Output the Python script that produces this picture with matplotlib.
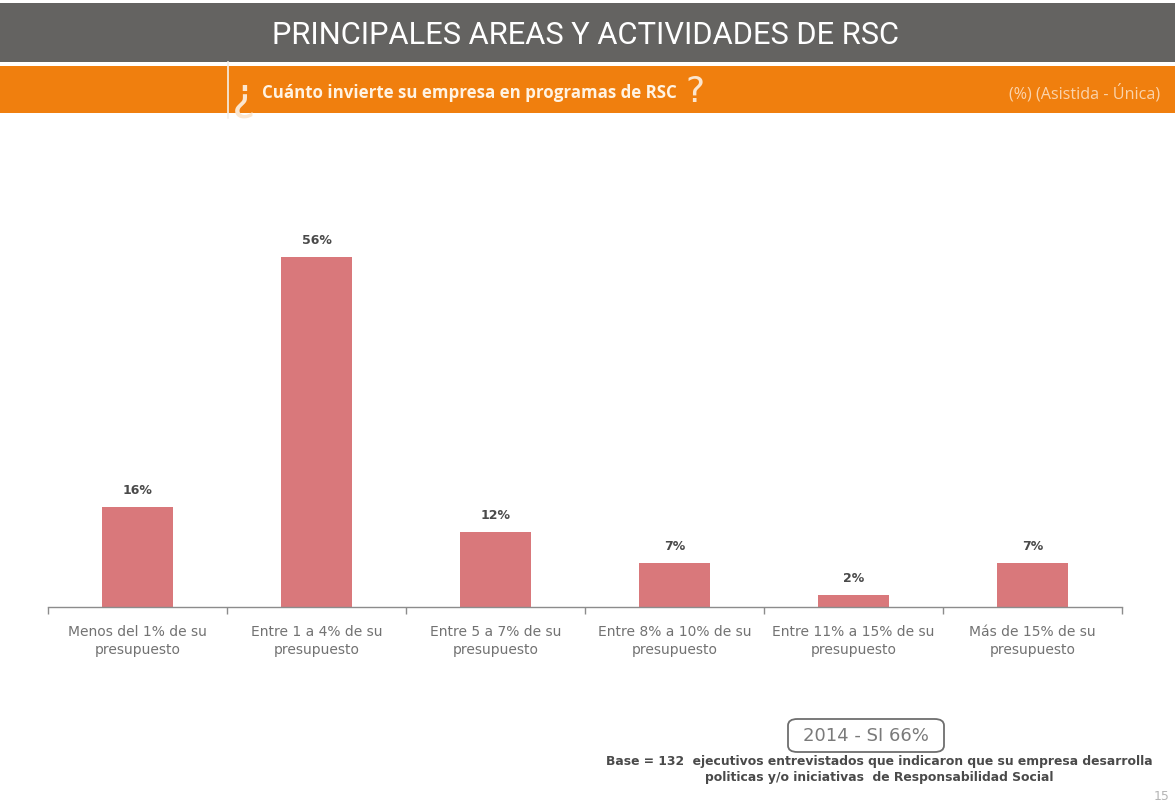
import matplotlib.pyplot as plt
from matplotlib.patches import Rectangle, FancyBboxPatch
import numpy as np

categories = [
    "Menos del 1% de su\npresupuesto",
    "Entre 1 a 4% de su\npresupuesto",
    "Entre 5 a 7% de su\npresupuesto",
    "Entre 8% a 10% de su\npresupuesto",
    "Entre 11% a 15% de su\npresupuesto",
    "Más de 15% de su\npresupuesto",
]
values = [16, 56, 12, 7, 2, 7]

title = "PRINCIPALES AREAS Y ACTIVIDADES DE RSC"
question = "Cuánto invierte su empresa en programas de RSC"
note = "(%) (Asistida - Única)"
badge = "2014 - SI 66%"
base_text = ("Base = 132  ejecutivos entrevistados que indicaron que su empresa desarrolla\n"
             "politicas y/o iniciativas  de Responsabilidad Social")

W, H = 1175, 807
fig = plt.figure(figsize=(W / 100, H / 100), dpi=100)
fig.patch.set_facecolor("white")

def fx(px):
    return px / W

def fy(py):
    return 1 - py / H

# header bands
fig.patches.append(Rectangle((0, fy(62)), 1, fy(3) - fy(62), transform=fig.transFigure,
                             facecolor="#646361", edgecolor="none", zorder=0))
fig.patches.append(Rectangle((0, fy(113)), 1, fy(66) - fy(113), transform=fig.transFigure,
                             facecolor="#F07F0E", edgecolor="none", zorder=0))
fig.lines.append(plt.Line2D([fx(228), fx(228)], [fy(118), fy(62)], transform=fig.transFigure,
                            color="#f4f0ea", lw=1.2))

fig.text(fx(586), fy(36), title, color="white", fontsize=22.2, family="Roboto",
         ha="center", va="center")
fig.text(fx(232), fy(97), "¿", color="#FBE6CF", fontsize=32, ha="left", va="center")
fig.text(fx(262), fy(93), question, color="#FFF3E3", fontsize=12.2, fontweight="bold",
         ha="left", va="center", family="Open Sans")
fig.text(fx(685), fy(92), "?", color="#FBE6CF", fontsize=26, ha="left", va="center")
fig.text(fx(1160), fy(93), note, color="#FAD3AC", fontsize=11.6, ha="right", va="center",
         family="Open Sans")

# chart
ax = fig.add_axes([fx(48), fy(607), fx(1122) - fx(48), (607 - 232) / H])
x = np.arange(len(values))
bars = ax.bar(x, values, width=0.4, color="#D9787B", edgecolor="none")
for b, v in zip(bars, values):
    ax.text(b.get_x() + b.get_width() / 2, v + 1.6, f"{v}%", ha="center", va="bottom",
            fontsize=9, fontweight="bold", color="#4a4a4a")

ax.set_xlim(-0.5, len(values) - 0.5)
ax.set_ylim(0, 60)
ax.set_facecolor("none")
for s in ["top", "right", "left"]:
    ax.spines[s].set_visible(False)
ax.spines["bottom"].set_color("#8c8c8c")
ax.spines["bottom"].set_linewidth(1.0)
ax.set_yticks([])
ax.set_xticks(np.arange(len(values) + 1) - 0.5, minor=False)
ax.set_xticklabels([])
ax.tick_params(axis="x", direction="out", length=5, color="#8c8c8c", width=1.0)
ax.set_xticks(x, minor=True)
ax.set_xticklabels(categories, minor=True, fontsize=10, color="#727272",
                   linespacing=1.35)
ax.tick_params(axis="x", which="minor", length=0, pad=13)

# footer
box = FancyBboxPatch((fx(788), fy(752)), fx(944) - fx(788), fy(719) - fy(752),
                     boxstyle="round,pad=0,rounding_size=0.008", transform=fig.transFigure,
                     facecolor="white", edgecolor="#6e6e6e", lw=1.3)
fig.patches.append(box)
fig.text(fx(866), fy(736), badge, color="#7a7a7a", fontsize=13, ha="center", va="center",
         family="DejaVu Sans")
fig.text(fx(879), fy(769), base_text, color="#4a4a4a", fontsize=8.9, fontweight="bold",
         ha="center", va="center", linespacing=1.3)
fig.text(fx(1170), fy(797), "15", color="#b5b5b5", fontsize=9, ha="right", va="center")

fig.savefig("out.png", dpi=100)
